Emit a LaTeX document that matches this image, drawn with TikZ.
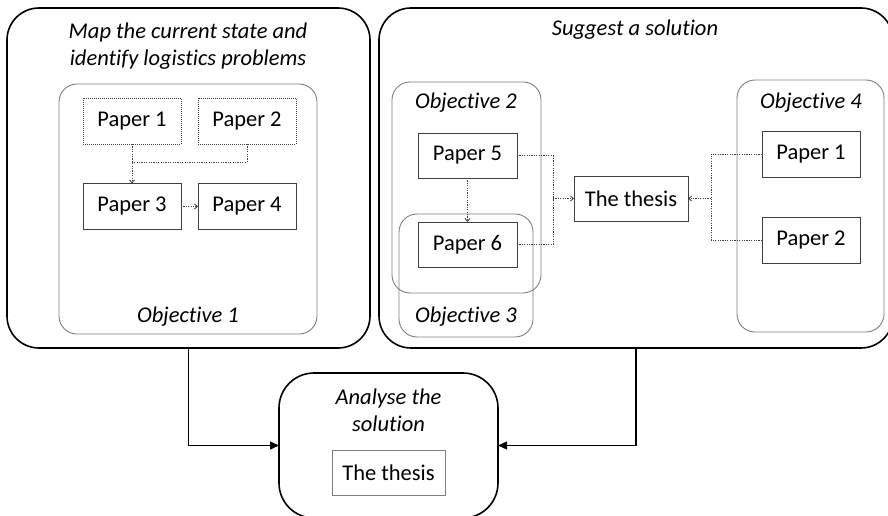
\documentclass[tikz,border=0pt]{standalone}
\usepackage{fontspec}
\setmainfont{Carlito}[Ligatures=NoCommon]
\usetikzlibrary{arrows.meta}
\definecolor{boxline}{HTML}{404040}
\definecolor{objline}{HTML}{7F7F7F}
\begin{document}
\begin{tikzpicture}[x=1pt,y=-1pt,
  every node/.style={inner sep=0pt,outer sep=0pt,font=\fontsize{22.5}{27}\selectfont},
  stage/.style={draw=black,line width=1.6pt,rounded corners=32pt},
  objective/.style={draw=objline,line width=0.9pt,rounded corners=18pt},
  paper/.style={draw=boxline,line width=0.9pt,minimum width=98pt,minimum height=46pt},
  draftpaper/.style={paper,dash pattern=on 1pt off 1pt},
  label/.style={font=\fontsize{22.5}{27}\selectfont\itshape,align=center},
  flow/.style={draw=boxline,line width=0.8pt,dash pattern=on 1.2pt off 1.2pt},
  flowto/.style={flow,-{Straight Barb[length=3pt,width=5pt]}},
  main/.style={draw=black,line width=1.3pt,-{Triangle[length=9pt,width=8pt]}}
]
\useasboundingbox (0,0) rectangle (888,516);
\clip (0,0) rectangle (888,516);

% three stages
\node[stage,minimum width=363pt,minimum height=340pt] (mapstage) at (188.5,178) {};
\node[stage,minimum width=514pt,minimum height=340pt] (suggeststage) at (636,178) {};
\node[stage,rounded corners=35pt,minimum width=219pt,minimum height=145pt] (analysestage) at (388.5,445.5) {};

\node[label] (maptitle) at (188,46) {Map the current state and\\identify logistics problems};
\node[label] (suggesttitle) at (635,30) {Suggest a solution};
\node[label] (analysetitle) at (388.5,410) {Analyse the\\solution};

% objective groups
\node[objective,minimum width=258pt,minimum height=250pt] (obj1) at (188,209) {};
\node[objective,minimum width=149pt,minimum height=211pt] (obj2) at (466.5,187.5) {};
\node[objective,minimum width=134pt,minimum height=123pt] (obj3) at (466,275.5) {};
\node[objective,minimum width=147pt,minimum height=252pt] (obj4) at (810.5,206) {};

\node[label] (obj1label) at (188,317) {Objective 1};
\node[label] (obj2label) at (466,103) {Objective 2};
\node[label] (obj3label) at (466,317) {Objective 3};
\node[label] (obj4label) at (811,103) {Objective 4};

% papers
\node[draftpaper] (p1a) at (132,121) {Paper 1};
\node[draftpaper] (p2a) at (247,121) {Paper 2};
\node[paper] (p3) at (132,206.5) {Paper 3};
\node[paper] (p4) at (247,206.5) {Paper 4};
\node[paper,minimum width=99pt,minimum height=45pt] (p5) at (467.5,155.5) {Paper 5};
\node[paper,minimum width=99pt,minimum height=45pt] (p6) at (467.5,244.5) {Paper 6};
\node[paper,minimum width=114pt,minimum height=45pt] (thesis) at (631,198.5) {The thesis};
\node[paper] (p1b) at (811,154) {Paper 1};
\node[paper] (p2b) at (811,240) {Paper 2};
\node[paper,draw=objline,minimum width=113pt,minimum height=45pt] (thesisfinal) at (388.5,472.5) {The thesis};

% dotted links between papers
\coordinate (joinA) at (132,162);
\coordinate (joinM) at (553,198.5);
\coordinate (joinR) at (711,198.5);
\draw[flowto] (p1a.south) -- (p3.north);
\draw[flow] (p2a.south) |- (joinA);
\draw[flowto] (p3.east) -- (p4.west);
\draw[flowto] (p5.south) -- (p6.north);
\draw[flow] (p5.east) -| (joinM);
\draw[flow] (p6.east) -| (joinM);
\draw[flowto] (joinM) -- (thesis.west);
\draw[flow] (p1b.west) -| (joinR);
\draw[flow] (p2b.west) -| (joinR);
\draw[flowto] (joinR) -- (thesis.east);

% stage flow
\draw[main] (mapstage.south) |- (analysestage.west);
\draw[main] (suggeststage.south) |- (analysestage.east);
\end{tikzpicture}
\end{document}
